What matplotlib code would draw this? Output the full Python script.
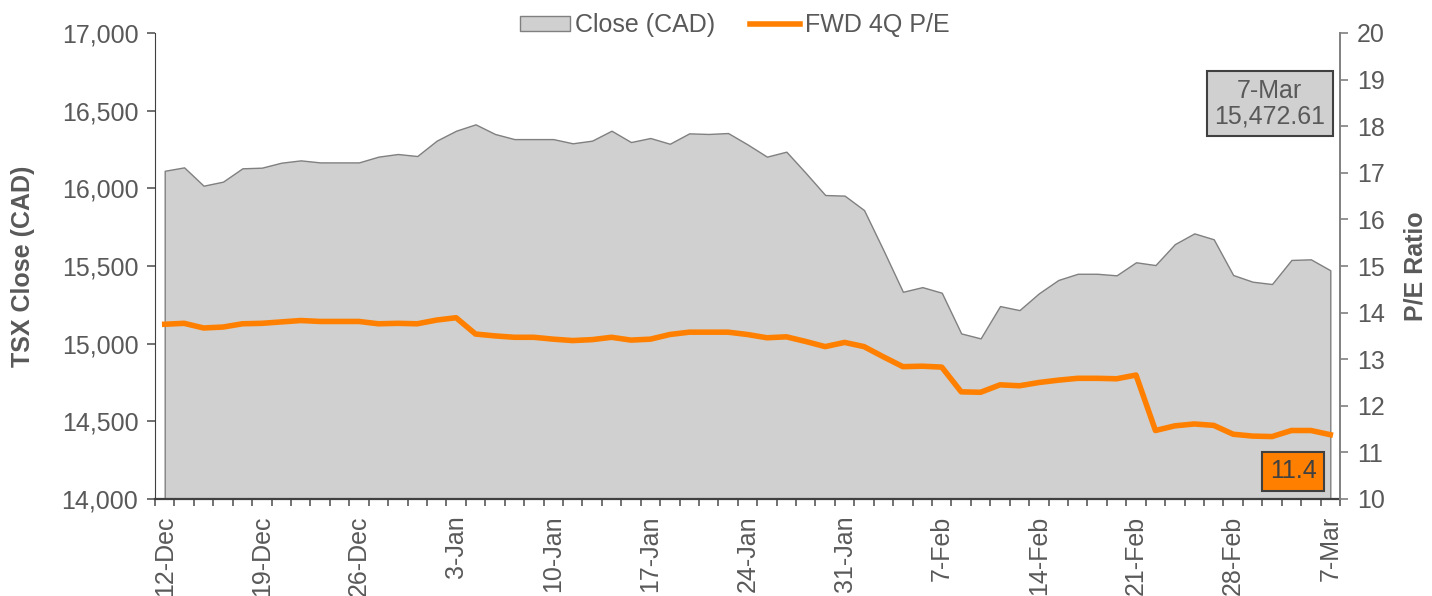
import numpy as np
import pandas as pd
import matplotlib
matplotlib.use('Agg')
import matplotlib.pyplot as plt
from matplotlib.patches import Patch
from matplotlib.lines import Line2D
from matplotlib.ticker import FuncFormatter

plt.rcParams['font.family'] = ['Liberation Sans', 'DejaVu Sans']

# trading days (weekdays, 1-Jan dropped)
dates = pd.bdate_range('2017-12-12', '2018-03-07')
dates = dates[dates != pd.Timestamp('2018-01-01')]
date_labels = [f'{d.day}-{d.strftime("%b")}' for d in dates]

# TSX close (CAD)
close = [16113, 16135, 16017, 16043, 16129, 16133, 16165, 16180, 16167, 16167,
         16167, 16204, 16221, 16208, 16307, 16371, 16412, 16350, 16317, 16317,
         16317, 16290, 16307, 16371, 16298, 16324, 16287, 16354, 16350, 16356,
         16283, 16204, 16236, 16099, 15957, 15953, 15860, 15601, 15334, 15364,
         15328, 15066, 15034, 15242, 15216, 15324, 15410, 15450, 15450, 15440,
         15524, 15506, 15641, 15710, 15672, 15442, 15399, 15384, 15539, 15543,
         15472.61]

# forward 4Q P/E
pe = [13.75, 13.77, 13.67, 13.69, 13.76, 13.77, 13.80, 13.83, 13.81, 13.81,
      13.81, 13.76, 13.77, 13.76, 13.84, 13.89, 13.54, 13.50, 13.47, 13.47,
      13.43, 13.40, 13.42, 13.47, 13.41, 13.43, 13.53, 13.58, 13.58, 13.58,
      13.53, 13.46, 13.48, 13.38, 13.27, 13.36, 13.27, 13.05, 12.84, 12.85,
      12.83, 12.30, 12.29, 12.45, 12.43, 12.50, 12.55, 12.59, 12.59, 12.58,
      12.66, 11.47, 11.57, 11.61, 11.58, 11.39, 11.35, 11.34, 11.47, 11.47,
      11.38]

TXT = '#595959'
GREY = '#D0D0D0'
ORANGE = '#FF8000'
FS = 18

x = np.arange(len(close))

fig = plt.figure(figsize=(14.32, 5.96), dpi=100)
ax = fig.add_axes([155/1432, 1 - 499/596, (1340 - 155)/1432, (499 - 33)/596])

ax.fill_between(x, close, 14000, facecolor=GREY, edgecolor='#808080', linewidth=1)
ax.set_xlim(-0.5, len(x) - 0.5)
ax.set_ylim(14000, 17000)
ax.set_yticks(np.arange(14000, 17001, 500))
ax.yaxis.set_major_formatter(FuncFormatter(lambda v, p: f'{v:,.0f}'))

# category labels every 5 points, tick marks between points
ax.set_xticks(x[::5])
ax.set_xticklabels([date_labels[i] for i in x[::5]], rotation=90)
ax.set_xticks(np.arange(-0.5, len(x), 1), minor=True)
ax.tick_params(axis='x', which='major', length=0, pad=12, labelsize=FS, labelcolor=TXT)
ax.tick_params(axis='x', which='minor', length=5, width=1.2, color=TXT, direction='out')
ax.tick_params(axis='y', length=6, width=1.2, color=TXT, labelsize=FS, labelcolor=TXT, pad=6)

ax.spines['top'].set_visible(False)
ax.spines['right'].set_visible(False)
ax.spines['left'].set_color('#404040')
ax.spines['bottom'].set_color('#404040')
ax.spines['bottom'].set_linewidth(1.6)
ax.set_ylabel('TSX Close (CAD)', fontsize=FS, fontweight='bold', color=TXT)
ax.yaxis.set_label_coords(-0.101, 0.5)

ax2 = ax.twinx()
ax2.plot(x, pe, color=ORANGE, linewidth=4, solid_joinstyle='round')
ax2.set_ylim(10, 20)
ax2.set_yticks(np.arange(10, 21, 1))
ax2.tick_params(axis='y', length=6, width=1.2, color='#808080', labelsize=FS, labelcolor=TXT, pad=6)
for s in ['top', 'left', 'bottom']:
    ax2.spines[s].set_visible(False)
ax2.spines['right'].set_color('#808080')
ax2.spines['right'].set_linewidth(1.4)
ax2.set_ylabel('P/E Ratio', fontsize=FS, fontweight='bold', color=TXT)
ax2.yaxis.set_label_coords(1.054, 0.5)

# last value boxes
ax2.text((1269.5 - 155)/1185, 1 - (103.5 - 33)/466,
         f'{date_labels[-1]}\n{close[-1]:,.2f}', transform=ax2.transAxes,
         ha='center', va='center', fontsize=FS, color=TXT, linespacing=1.1,
         bbox=dict(boxstyle='square,pad=0.3', facecolor=GREY, edgecolor='#404040', linewidth=1.5))
ax2.text((1293 - 155)/1185, 1 - (471 - 33)/466, f'{pe[-1]:.1f}', transform=ax2.transAxes,
         ha='center', va='center', fontsize=FS, color='#404040',
         bbox=dict(boxstyle='square,pad=0.3', facecolor=ORANGE, edgecolor='#404040', linewidth=1.5))

handles = [Patch(facecolor=GREY, edgecolor='#808080', linewidth=1),
           Line2D([0], [0], color=ORANGE, linewidth=4)]
fig.legend(handles, ['Close (CAD)', 'FWD 4Q P/E'], loc='center', ncol=2,
           bbox_to_anchor=(735/1432, 1 - 25/596), frameon=False, fontsize=FS,
           labelcolor=TXT, handlelength=2.0, handleheight=0.55, handletextpad=0.2,
           columnspacing=1.4)

fig.savefig('out.png', dpi=100)
